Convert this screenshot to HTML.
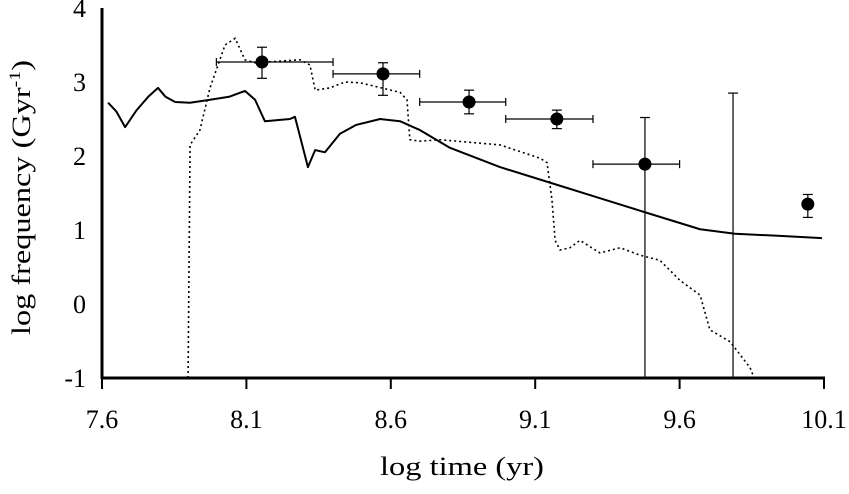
<!DOCTYPE html>
<html><head><meta charset="utf-8"><style>
html,body{margin:0;padding:0;background:#fff;}
svg{display:block;font-family:"Liberation Serif",serif;}
</style></head><body>
<svg id="chart" width="849" height="494" viewBox="0 0 849 494" xmlns="http://www.w3.org/2000/svg">
<g id="axes"></g>
<g id="series"></g>
<g id="points"></g>
<text x="380" y="475" font-size="26" textLength="164" lengthAdjust="spacingAndGlyphs">log time (yr)</text>
<text transform="translate(30,335) rotate(-90)" font-size="26" textLength="275" lengthAdjust="spacingAndGlyphs">log frequency (Gyr<tspan dy="-10" font-size="16">-1</tspan><tspan dy="10">)</tspan></text>
</svg>
<script>
const xTicks=[7.6,8.1,8.6,9.1,9.6,10.1];
const xTickLabels=["7.6","8.1","8.6","9.1","9.6","10.1"];
const yTicks=[-1,0,1,2,3,4];
const yTickLabels=["-1","0","1","2","3","4"];
const solidX=[7.621,7.650,7.680,7.720,7.760,7.794,7.820,7.853,7.905,7.974,8.040,8.095,8.130,8.164,8.251,8.268,8.290,8.313,8.338,8.372,8.424,8.480,8.563,8.632,8.701,8.805,8.978,9.151,9.324,9.480,9.671,9.792,9.948,10.093];
const solidY=[2.72,2.60,2.39,2.62,2.80,2.92,2.80,2.73,2.72,2.76,2.80,2.88,2.76,2.47,2.50,2.53,2.20,1.85,2.08,2.05,2.30,2.42,2.50,2.47,2.35,2.11,1.85,1.64,1.43,1.24,1.01,0.95,0.92,0.89];
const dotX=[7.898,7.905,7.939,7.974,8.026,8.061,8.095,8.130,8.286,8.320,8.338,8.389,8.441,8.493,8.632,8.656,8.666,8.701,8.770,8.978,9.117,9.141,9.158,9.169,9.186,9.220,9.255,9.324,9.394,9.463,9.532,9.601,9.671,9.705,9.775,9.844,9.858];
const dotY=[-1,2.15,2.35,2.92,3.50,3.59,3.30,3.26,3.30,3.23,2.89,2.92,3.00,2.99,2.86,2.76,2.22,2.20,2.22,2.15,1.97,1.91,1.41,0.86,0.73,0.76,0.86,0.69,0.76,0.66,0.59,0.32,0.12,-0.35,-0.51,-0.86,-1];
const ptX=[8.154,8.573,8.871,9.175,9.480,10.044];
const ptY=[3.27,3.11,2.73,2.50,1.89,1.35];
const ptXlo=[7.996,8.40,8.70,8.998,9.30,null];
const ptXhi=[8.40,8.70,8.998,9.30,9.60,null];
const ptYlo=[3.05,2.82,2.57,2.37,-1,1.17];
const ptYhi=[3.47,3.26,2.89,2.62,2.52,1.48];
const extraX=[9.785];const extraYlo=[-1];const extraYhi=[2.85];
const X0=102,X1=824,Y0=378,Y1=8;
const sx=v=>X0+(v-7.6)/2.5*(X1-X0);
const sy=v=>Y0-(v+1)/5*(Y0-Y1);
const NS="http://www.w3.org/2000/svg";
function mk(tag,parent,attrs){const e=document.createElementNS(NS,tag);for(const k in attrs)e.setAttribute(k,attrs[k]);parent.appendChild(e);return e;}
const ax=document.getElementById('axes');
let e=mk('line',ax,{x1:X0,y1:Y0,x2:X1+1,y2:Y0,stroke:'#000','stroke-width':3});


e=mk('line',ax,{x1:X0,y1:Y0+1,x2:X0,y2:Y1,stroke:'#000','stroke-width':3});


xTicks.forEach((v,i)=>{
 let t=mk('line',ax,{x1:sx(v),y1:Y0,x2:sx(v),y2:Y0+11,stroke:'#000','stroke-width':2});
 
 
 let l=mk('text',ax,{x:sx(v),y:428,'font-size':26,'text-anchor':'middle'});l.textContent=xTickLabels[i];
 
 
});
yTicks.forEach((v,i)=>{
 let l=mk('text',ax,{x:86,y:sy(v)+9,'font-size':26,'text-anchor':'end'});l.textContent=yTickLabels[i];
 
 
});
const se=document.getElementById('series');
let p=mk('polyline',se,{points:solidX.map((v,i)=>sx(v)+','+sy(solidY[i])).join(' '),fill:'none',stroke:'#000','stroke-width':2,'stroke-linejoin':'round'});


p=mk('polyline',se,{points:dotX.map((v,i)=>sx(v)+','+sy(dotY[i])).join(' '),fill:'none',stroke:'#000','stroke-width':1.6,'stroke-dasharray':'2,3'});


const pg=document.getElementById('points');
ptX.forEach((v,i)=>{
 const g=mk('g',pg,{});
 
 
 if(ptXlo[i]!==null){
  mk('line',g,{x1:sx(ptXlo[i]),y1:sy(ptY[i]),x2:sx(ptXhi[i]),y2:sy(ptY[i]),stroke:'#000','stroke-width':1.2});
  mk('line',g,{x1:sx(ptXlo[i]),y1:sy(ptY[i])-4,x2:sx(ptXlo[i]),y2:sy(ptY[i])+4,stroke:'#000','stroke-width':1.2});
  mk('line',g,{x1:sx(ptXhi[i]),y1:sy(ptY[i])-4,x2:sx(ptXhi[i]),y2:sy(ptY[i])+4,stroke:'#000','stroke-width':1.2});
 }
 mk('line',g,{x1:sx(v),y1:sy(ptYlo[i]),x2:sx(v),y2:sy(ptYhi[i]),stroke:'#000','stroke-width':1.2});
 mk('line',g,{x1:sx(v)-5,y1:sy(ptYhi[i]),x2:sx(v)+5,y2:sy(ptYhi[i]),stroke:'#000','stroke-width':1.2});
 if(ptYlo[i]>-1)mk('line',g,{x1:sx(v)-5,y1:sy(ptYlo[i]),x2:sx(v)+5,y2:sy(ptYlo[i]),stroke:'#000','stroke-width':1.2});
 mk('circle',g,{cx:sx(v),cy:sy(ptY[i]),r:6.5,fill:'#000'});
});
extraX.forEach((v,i)=>{
 const l=mk('line',pg,{x1:sx(v),y1:sy(extraYlo[i]),x2:sx(v),y2:sy(extraYhi[i]),stroke:'#000','stroke-width':1.2});
 
 
 const c=mk('line',pg,{x1:sx(v)-5,y1:sy(extraYhi[i]),x2:sx(v)+5,y2:sy(extraYhi[i]),stroke:'#000','stroke-width':1.2});
 
 
});
</script>
</body></html>
